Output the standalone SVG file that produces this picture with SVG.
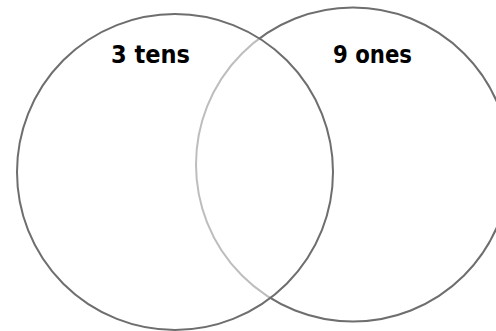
<svg xmlns="http://www.w3.org/2000/svg" width="496" height="331" viewBox="0 0 496 331">
<style>
.ring{stroke:#6e6e6e;stroke-width:2}
.lbl{font-family:"Comic Sans MS","DejaVu Sans",sans-serif;font-weight:bold;font-size:24px;fill:#000}
</style>
<rect width="496" height="331" fill="#fff"/>
<g id="right-circle">
<circle class="ring" cx="353" cy="164.5" r="157" fill="none"/>
<text class="lbl" x="333" y="63" textLength="79" lengthAdjust="spacingAndGlyphs">9 ones</text>
</g>
<g id="left-circle">
<circle class="ring" cx="175" cy="172" r="158" fill="#fff" fill-opacity="0.55"/>
<text class="lbl" x="111" y="63" textLength="79" lengthAdjust="spacingAndGlyphs">3 tens</text>
</g>
</svg>
